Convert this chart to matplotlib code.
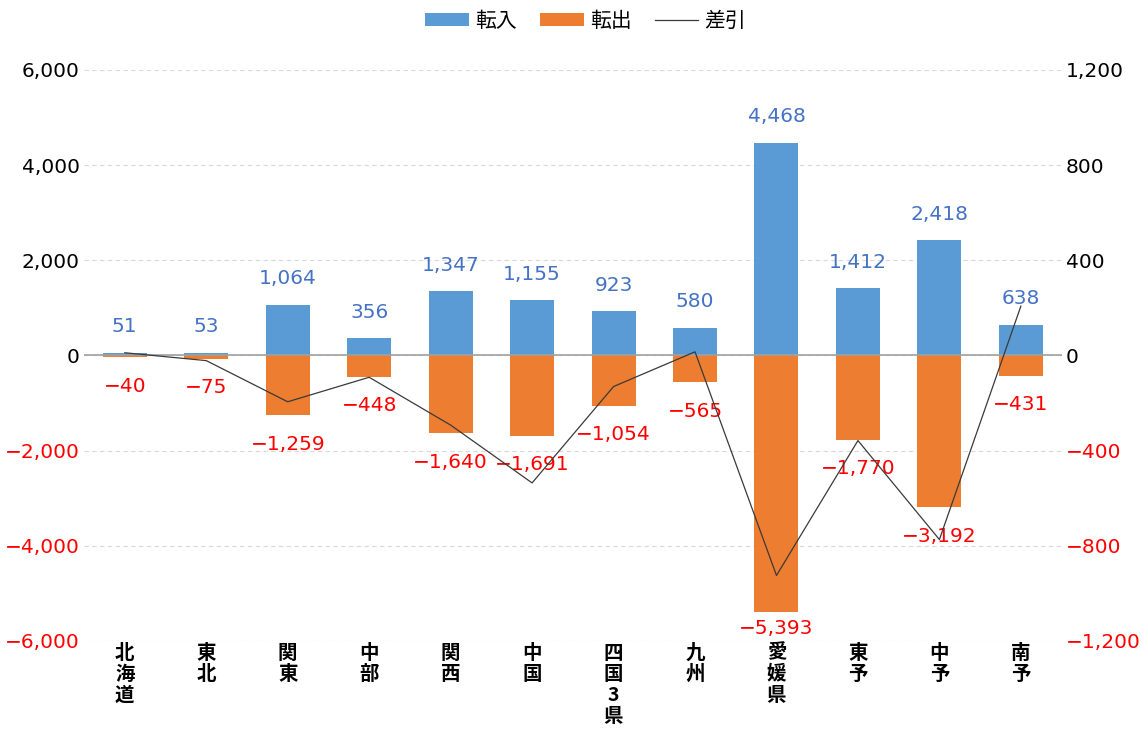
import matplotlib.pyplot as plt
from matplotlib.ticker import FuncFormatter

plt.rcParams['font.family'] = ['Noto Sans CJK JP', 'DejaVu Sans']

regions = ["北海道", "東北", "関東", "中部", "関西", "中国", "四国3県", "九州",
           "愛媛県", "東予", "中予", "南予"]
tennyu = [51, 53, 1064, 356, 1347, 1155, 923, 580, 4468, 1412, 2418, 638]
tenshutsu = [-40, -75, -1259, -448, -1640, -1691, -1054, -565, -5393, -1770, -3192, -431]
sashihiki = [11, -22, -195, -92, -293, -536, -131, 15, -925, -358, -774, 207]

blue = "#5B9BD5"
orange = "#ED7D31"
numfont = ["DejaVu Sans"]
ymin, ymax = -6000, 6000


def fmt(v, pos=None):
    s = f"{abs(int(round(v))):,}"
    return ("\u2212" + s) if v < 0 else s


fig = plt.figure(figsize=(11.42, 7.35), dpi=100)
ax = fig.add_axes([0.0736, 0.128, 0.856, 0.777])
ax2 = ax.twinx()

x = list(range(len(regions)))
w = 0.54
ax.bar(x, tennyu, w, color=blue, label="転入", zorder=2)
ax.bar(x, tenshutsu, w, color=orange, label="転出", zorder=2)
ax2.plot(x, sashihiki, color="#3a3a3a", lw=0.9, label="差引")

for xi, v in zip(x, tennyu):
    ax.annotate(fmt(v), (xi, v), xytext=(0, 12), textcoords="offset points",
                ha="center", va="bottom", color="#4472C4", fontsize=14.5,
                family=numfont)
for xi, v in zip(x, tenshutsu):
    if v - 800 < ymin:
        # label would leave the plot area: keep it inside, like Excel does
        ax.annotate(fmt(v), (xi, ymin), xytext=(0, 2), textcoords="offset points",
                    ha="center", va="bottom", color="red", fontsize=14.5,
                    family=numfont)
    else:
        ax.annotate(fmt(v), (xi, v), xytext=(0, -14), textcoords="offset points",
                    ha="center", va="top", color="red", fontsize=14.5,
                    family=numfont)

ax.set_xlim(-0.5, len(regions) - 0.5)
ax.set_ylim(ymin, ymax)
ax.set_yticks(range(-6000, 6001, 2000))
ax2.set_ylim(-1200, 1200)
ax2.set_yticks(range(-1200, 1201, 400))
ax.yaxis.set_major_formatter(FuncFormatter(fmt))
ax2.yaxis.set_major_formatter(FuncFormatter(fmt))

ax.grid(axis="y", color="#d9d9d9", ls=(0, (4, 3)), lw=0.8, zorder=0)
ax.axhline(0, color="#a0a0a0", lw=1.2, zorder=3)

for a in (ax, ax2):
    for sp in a.spines.values():
        sp.set_visible(False)
    a.tick_params(axis="y", length=0, labelsize=14.5, pad=3)

for lab, val in zip(ax.get_yticklabels(), ax.get_yticks()):
    lab.set_color("red" if val < 0 else "black")
    lab.set_family(numfont)
for lab, val in zip(ax2.get_yticklabels(), ax2.get_yticks()):
    lab.set_color("red" if val < 0 else "black")
    lab.set_family(numfont)

ax.set_xticks(x)
ax.set_xticklabels(["\n".join(r) for r in regions], fontsize=14,
                   fontweight="bold", linespacing=1.13, va="top")
ax.tick_params(axis="x", length=0, pad=2)

h1, l1 = ax.get_legend_handles_labels()
h2, l2 = ax2.get_legend_handles_labels()
fig.legend(h1 + h2, l1 + l2, loc="upper center", ncol=3, frameon=False,
           fontsize=15, bbox_to_anchor=(0.513, 1.012), handlelength=2.1,
           handleheight=0.62, columnspacing=1.1, handletextpad=0.3)

fig.savefig("out.png", dpi=100)
